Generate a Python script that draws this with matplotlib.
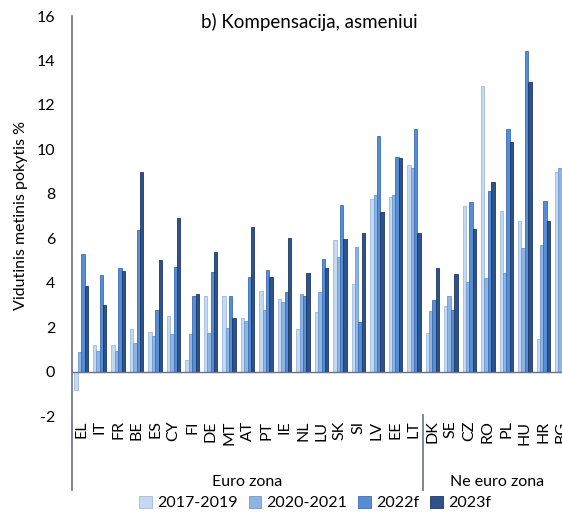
import numpy as np
import matplotlib
matplotlib.use('Agg')
import matplotlib.pyplot as plt

plt.rcParams['font.family'] = ['Lato', 'DejaVu Sans']
plt.rcParams['axes.unicode_minus'] = False

countries = ['EL', 'IT', 'FR', 'BE', 'ES', 'CY', 'FI', 'DE', 'MT', 'AT', 'PT', 'IE', 'NL', 'LU',
             'SK', 'SI', 'LV', 'EE', 'LT', 'DK', 'SE', 'CZ', 'RO', 'PL', 'HU', 'HR', 'BG']
s2017 = [-0.85, 1.2, 1.2, 1.92, 1.8, 2.48, 0.5, 3.4, 3.38, 2.43, 3.63, 3.26, 1.91, 2.7,
         5.93, 3.95, 7.78, 7.85, 9.29, 1.74, 2.96, 7.43, 12.85, 7.21, 6.76, 1.47, 8.96]
s2020 = [0.87, 0.93, 0.93, 1.28, 1.58, 1.67, 1.67, 1.73, 1.98, 2.28, 2.78, 3.12, 3.47, 3.59,
         5.15, 5.6, 7.94, 7.94, 9.17, 2.72, 3.41, 4.04, 4.22, 4.44, 5.57, 5.69, 9.16]
s2022 = [5.27, 4.35, 4.67, 6.38, 2.79, 4.7, 3.42, 4.46, 3.39, 4.26, 4.56, 3.57, 3.39, 5.05,
         7.51, 2.21, 10.62, 9.67, 10.9, 3.23, 2.78, 7.64, 8.11, 10.9, 14.44, 7.69, 10.5]
s2023 = [3.87, 3.01, 4.53, 8.98, 5.01, 6.92, 3.5, 5.36, 2.42, 6.52, 4.26, 6.0, 4.44, 4.68,
         5.95, 6.25, 7.18, 9.61, 6.25, 4.64, 4.41, 6.43, 8.53, 10.35, 13.05, 6.76, 9.5]
series = ['2017-2019', '2020-2021', '2022f', '2023f']
groups = ['Euro zona', 'Ne euro zona']
n_euro = 19

fills = ['#c5d9f1', '#8eb4e3', '#558ed5', '#2e528a']
edges = ['#9dbce3', '#6d9ad2', '#3a6eb5', '#1f3864']
axis_col = '#6a6f8c'

fig = plt.figure(figsize=(5.62, 5.12), dpi=100)
# axes runs past the right edge of the picture, as in the original crop
ax = fig.add_axes([72 / 562, 96 / 512, 499 / 562, 400 / 512])

x = np.arange(len(countries))
w = 0.1825
for i, vals in enumerate([s2017, s2020, s2022, s2023]):
    ax.bar(x + (i - 1.5) * w, vals, w, color=fills[i], edgecolor=edges[i],
           linewidth=0.6, label=series[i], zorder=2)

ax.set_xlim(-0.5, len(countries) - 0.5)
ax.set_ylim(-2, 16)
ax.set_yticks(range(-2, 17, 2))
ax.tick_params(axis='y', length=0, labelsize=11.5, pad=12)
ax.set_xticks([])
for s in ['top', 'right', 'bottom', 'left']:
    ax.spines[s].set_visible(False)
ax.axhline(0, color=axis_col, lw=1, zorder=3)

# category labels, group labels and separator lines below the plot
for xi, c in zip(x, countries):
    ax.text(xi, -2.2, c, rotation=90, ha='center', va='top', fontsize=11.5,
            color='#000000', clip_on=False)
ax.plot([-0.5, -0.5], [16, -5.33], color=axis_col, lw=1.2, clip_on=False)
ax.plot([n_euro - 0.5, n_euro - 0.5], [-1.95, -5.33], color=axis_col, lw=1.2, clip_on=False)
ax.text((n_euro - 1) / 2, -4.95, groups[0], ha='center', va='center', fontsize=11.5)
ax.text((n_euro + len(countries) - 1) / 2, -4.95, groups[1], ha='center', va='center', fontsize=11.5)

ax.set_ylabel('Vidutinis metinis pokytis %', fontsize=11.5, labelpad=6)
fig.text(309 / 562, 1 - 22 / 512, 'b) Kompensacija, asmeniui', ha='center', va='center',
         fontsize=13.5)

fig.legend(loc='center', bbox_to_anchor=(315 / 562, 1 - 503 / 512), ncol=4, frameon=False,
           fontsize=11.5, handlelength=0.8, handleheight=0.8, handletextpad=0.3,
           columnspacing=0.7)

fig.savefig('out.png', dpi=100)
